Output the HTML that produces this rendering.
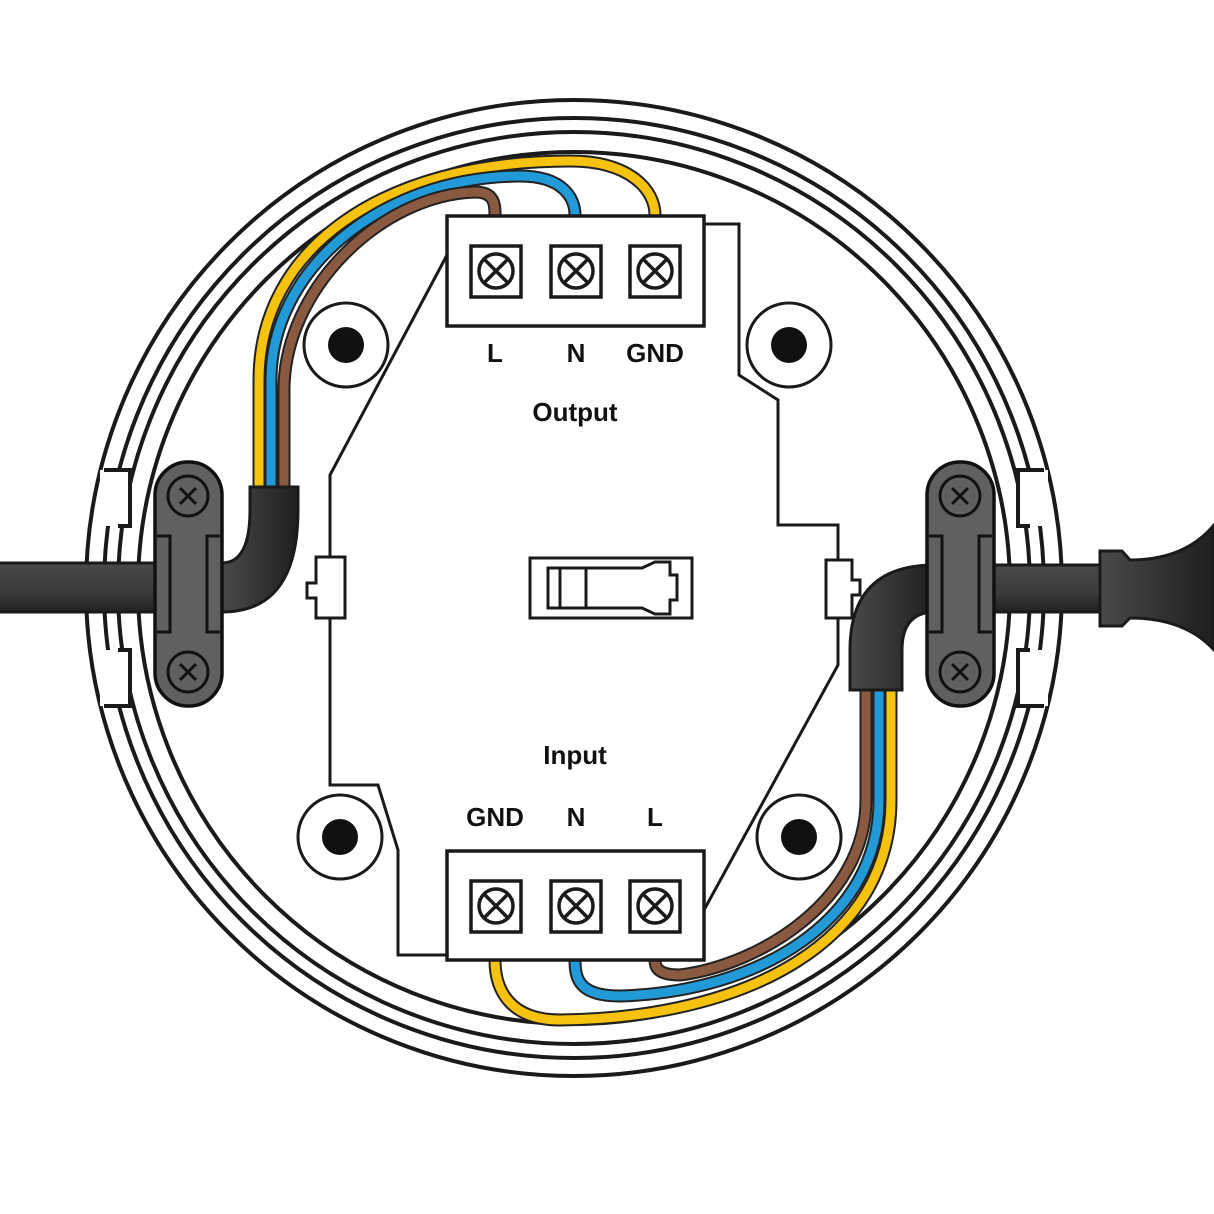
<!DOCTYPE html>
<html><head><style>html,body{margin:0;padding:0;background:#fff}svg{display:block}</style></head>
<body>
<svg width="1214" height="1214" viewBox="0 0 1214 1214" xmlns="http://www.w3.org/2000/svg">
<defs>
<linearGradient id="cg" x1="0" y1="0" x2="0" y2="1"><stop offset="0" stop-color="#4a4a4a"/><stop offset="0.6" stop-color="#3a3a3a"/><stop offset="1" stop-color="#222"/></linearGradient>
<linearGradient id="fg" x1="0" y1="0" x2="1" y2="0"><stop offset="0" stop-color="#4a4a4a"/><stop offset="1" stop-color="#1e1e1e"/></linearGradient>
</defs>
<g fill="none" stroke="#1a1a1a" stroke-width="4">
<circle cx="574" cy="588" r="488"/>
<circle cx="574" cy="588" r="470"/>
<circle cx="574" cy="588" r="456"/>
<circle cx="574" cy="588" r="436"/>
</g>
<!-- notch gaps -->
<g fill="#fff" stroke="none">
<rect x="100" y="470" width="30" height="56"/>
<rect x="100" y="650" width="30" height="56"/>
<rect x="1018" y="470" width="30" height="56"/>
<rect x="1018" y="650" width="30" height="56"/>
</g>
<g fill="none" stroke="#1a1a1a" stroke-width="4">
<path d="M104,470 L130,470 L130,526 L118,526"/>
<path d="M104,706 L130,706 L130,650 L118,650"/>
<path d="M1044,470 L1018,470 L1018,526 L1030,526"/>
<path d="M1044,706 L1018,706 L1018,650 L1030,650"/>
</g>
<!-- board outline -->
<g fill="none" stroke="#1a1a1a" stroke-width="3">
<path d="M704,224 L739,224 L739,375 L778,400 L778,525 L838,525 L838,560"/>
<path d="M838,618 L838,665 L704,910"/>
<path d="M447,255 L330,475 L330,557"/>
<path d="M330,618 L330,785 L378,785 L398,850 L398,955 L447,955"/>
<path d="M316,557 L345,557 L345,618 L316,618 L316,598 L307,598 L307,583 L316,583 Z" fill="#fff"/>
<path d="M826,560 L852,560 L852,580 L860,580 L860,595 L852,595 L852,618 L826,618 Z" fill="#fff"/>
</g>
<!-- holes -->
<g fill="#fff" stroke="#1a1a1a" stroke-width="3">
<circle cx="346" cy="345" r="42"/><circle cx="789" cy="345" r="42"/>
<circle cx="340" cy="837" r="42"/><circle cx="799" cy="837" r="42"/>
</g>
<g fill="#111"><circle cx="346" cy="345" r="18"/><circle cx="789" cy="345" r="18"/><circle cx="340" cy="837" r="18"/><circle cx="799" cy="837" r="18"/></g>
<!-- switch -->
<g fill="none" stroke="#1a1a1a" stroke-width="3">
<rect x="530" y="558" width="162" height="60"/>
<path d="M548,568 L642,568 L655,562 L670,562 L670,575 L677,575 L677,600 L670,600 L670,614 L655,614 L642,608 L548,608 Z"/>
<line x1="560" y1="568" x2="560" y2="608"/><line x1="586" y1="568" x2="586" y2="608"/>
</g>
<!-- wires -->
<g fill="none" stroke-linecap="butt">
<path d="M259,490 L259,380 C259,250 380,161 570,161 C630,161 655,190 655,215" stroke="#222" stroke-width="13"/>
<path d="M259,490 L259,380 C259,250 380,161 570,161 C630,161 655,190 655,215" stroke="#f6c210" stroke-width="9"/>
<path d="M271,490 L271,380 C271,270 380,177 520,176 C565,176 575,200 575,215" stroke="#222" stroke-width="13"/>
<path d="M271,490 L271,380 C271,270 380,177 520,176 C565,176 575,200 575,215" stroke="#229ad8" stroke-width="9"/>
<path d="M284,490 L284,390 C284,290 380,195 475,192 C495,192 495,205 495,215" stroke="#222" stroke-width="13"/>
<path d="M284,490 L284,390 C284,290 380,195 475,192 C495,192 495,205 495,215" stroke="#8a5a40" stroke-width="9"/>
<path d="M891,688 L891,800 C891,940 750,1018 560,1020 C510,1020 495,990 495,960" stroke="#222" stroke-width="13"/>
<path d="M891,688 L891,800 C891,940 750,1018 560,1020 C510,1020 495,990 495,960" stroke="#f6c210" stroke-width="9"/>
<path d="M879,688 L879,800 C879,920 760,992 620,996 C580,996 575,980 575,960" stroke="#222" stroke-width="13"/>
<path d="M879,688 L879,800 C879,920 760,992 620,996 C580,996 575,980 575,960" stroke="#229ad8" stroke-width="9"/>
<path d="M866,688 L866,800 C866,900 760,965 680,975 C655,975 655,965 655,960" stroke="#222" stroke-width="13"/>
<path d="M866,688 L866,800 C866,900 760,965 680,975 C655,975 655,965 655,960" stroke="#8a5a40" stroke-width="9"/>
</g>
<!-- terminal blocks -->
<g fill="#fff" stroke="#1a1a1a" stroke-width="3.5">
<rect x="447" y="216" width="257" height="110"/>
<rect x="447" y="851" width="257" height="109"/>
<rect x="471" y="246" width="50" height="51"/><rect x="551" y="246" width="50" height="51"/><rect x="630" y="246" width="50" height="51"/>
<rect x="471" y="881" width="50" height="51"/><rect x="551" y="881" width="50" height="51"/><rect x="630" y="881" width="50" height="51"/>
</g>
<g fill="none" stroke="#1a1a1a" stroke-width="3.5">
<circle cx="496" cy="271" r="17"/><path d="M484,259 L508,283 M508,259 L484,283"/>
<circle cx="576" cy="271" r="17"/><path d="M564,259 L588,283 M588,259 L564,283"/>
<circle cx="655" cy="271" r="17"/><path d="M643,259 L667,283 M667,259 L643,283"/>
<circle cx="496" cy="906" r="17"/><path d="M484,894 L508,918 M508,894 L484,918"/>
<circle cx="576" cy="906" r="17"/><path d="M564,894 L588,918 M588,894 L564,918"/>
<circle cx="655" cy="906" r="17"/><path d="M643,894 L667,918 M667,894 L643,918"/>
</g>
<!-- cables -->
<g stroke="#1a1a1a" stroke-width="3">
<rect x="-5" y="563" width="170" height="49" fill="url(#cg)"/>
<path d="M250,487 L298,487 L298,510 Q298,612 222,612 L222,563 Q250,563 250,510 Z" fill="url(#fg)"/>
<path d="M850,690 L902,690 L902,650 Q902,612 935,612 L935,565 Q850,565 850,650 Z" fill="url(#fg)"/>
<rect x="985" y="565" width="120" height="47" fill="url(#cg)"/>
<path d="M1100,551 L1122,551 L1130,560 Q1185,560 1214,525 L1214,650 Q1185,618 1130,618 L1122,626 L1100,626 Z" fill="url(#fg)"/>
</g>
<!-- clamps -->
<g stroke="#111" stroke-width="3.5" fill="#5f6160">
<rect x="155" y="462" width="67" height="244" rx="33"/>
<rect x="927" y="462" width="67" height="244" rx="33"/>
</g>
<g stroke="#111" stroke-width="3" fill="#5f6160">
<path d="M157,536 L170,536 L170,632 L157,632"/>
<path d="M220,536 L207,536 L207,632 L220,632"/>
<path d="M929,536 L942,536 L942,632 L929,632"/>
<path d="M992,536 L979,536 L979,632 L992,632"/>
<circle cx="188" cy="496" r="20"/><circle cx="188" cy="672" r="20"/>
<circle cx="960" cy="496" r="20"/><circle cx="960" cy="672" r="20"/>
<path d="M180,488 L196,504 M196,488 L180,504 M180,664 L196,680 M196,664 L180,680 M952,488 L968,504 M968,488 L952,504 M952,664 L968,680 M968,664 L952,680"/>
</g>
<!-- labels -->
<g font-family="Liberation Sans, sans-serif" font-weight="bold" font-size="26" fill="#111" text-anchor="middle">
<text x="495" y="362">L</text><text x="576" y="362">N</text><text x="655" y="362">GND</text>
<text x="575" y="421">Output</text>
<text x="575" y="764">Input</text>
<text x="495" y="826">GND</text><text x="576" y="826">N</text><text x="655" y="826">L</text>
</g>
</svg>
</body></html>
